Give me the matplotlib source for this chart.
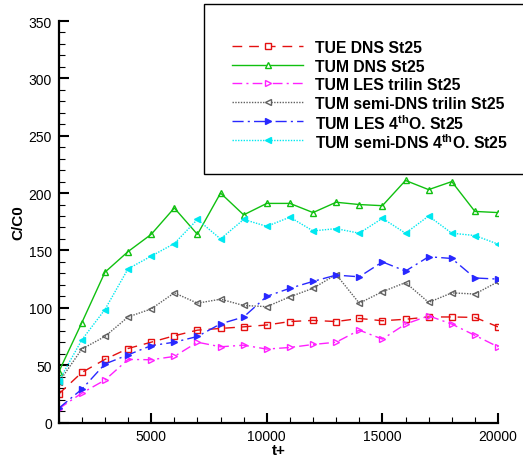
import matplotlib
matplotlib.use('Agg')
import matplotlib.pyplot as plt
import numpy as np
from matplotlib.lines import Line2D
from matplotlib.patches import Rectangle
from matplotlib.ticker import MultipleLocator

plt.rcParams['font.family'] = ['Liberation Sans', 'DejaVu Sans']
plt.rcParams['mathtext.fontset'] = 'custom'
plt.rcParams['mathtext.rm'] = 'Liberation Sans'
plt.rcParams['mathtext.bf'] = 'Liberation Sans:bold'

t_plus = np.arange(1000, 21000, 1000)

tue_dns = [24.8, 43.6, 55, 64.5, 70, 75.6, 80.5, 82, 83.4, 85,
           88, 89, 88, 90.7, 88.7, 90, 92, 92, 91.6, 83.4]
tum_dns = [44, 87, 131, 149, 164, 187, 164, 200, 181, 191,
           191, 183, 192, 190, 189, 211, 203, 210, 184, 183]
tum_les_trilin = [12, 25.6, 37, 55, 54.7, 57.6, 70, 66, 67.4, 64,
                  65.4, 68, 70, 80.5, 72.7, 85.8, 93, 85.8, 76, 66]
tum_semi_trilin = [35, 64, 75, 92, 99, 113, 104, 107.5, 102, 101,
                   109.6, 117, 129, 104, 114, 122, 104.7, 113, 112, 122.7]
tum_les_4th = [12.4, 29, 51, 59, 67, 70, 75, 86, 92, 110,
               117, 123, 128.5, 127, 140, 132, 144.5, 143, 126, 125]
tum_semi_4th = [36, 72, 98.5, 134, 145, 156, 177, 160, 177, 171,
                179, 167, 169, 165, 178, 165, 180, 165, 163, 155.5]

labels = ['TUE DNS St25', 'TUM DNS St25', 'TUM LES trilin St25',
          'TUM semi-DNS trilin St25', r'TUM LES 4$^{\mathbf{th}}$O. St25',
          r'TUM semi-DNS 4$^{\mathbf{th}}$O. St25']
series = [tue_dns, tum_dns, tum_les_trilin, tum_semi_trilin, tum_les_4th, tum_semi_4th]

# color, linestyle, marker, filled, markersize
styles = [
    ('#e41010', (0, (7, 5)), 's', False, 4.5),
    ('#10c010', '-', '^', False, 5),
    ('#ff20ff', (0, (7, 3, 1.5, 3)), '>', False, 5),
    ('#606060', (0, (1, 1)), '<', False, 5),
    ('#2828ff', (0, (8, 3, 1.5, 3)), '>', True, 4.5),
    ('#00e8f0', (0, (1, 1)), '<', True, 4.5),
]

W, H = 523, 464
fig = plt.figure(figsize=(W / 100, H / 100), dpi=100)
ax = fig.add_axes([58.7 / W, 1 - 423.5 / H, (498 - 58.7) / W, (423.5 - 22) / H])

for vals, lab, (c, ls, mk, filled, ms) in zip(series, labels, styles):
    ax.plot(t_plus, vals, color=c, ls=ls, lw=1, marker=mk,
            mfc=c if filled else 'none', mec=c, ms=ms, label=lab)

ax.set_xlim(1000, 20000)
ax.set_ylim(0, 350)
ax.xaxis.set_major_locator(MultipleLocator(5000))
ax.xaxis.set_minor_locator(MultipleLocator(1000))
ax.yaxis.set_major_locator(MultipleLocator(50))
ax.yaxis.set_minor_locator(MultipleLocator(10))
ax.spines['top'].set_visible(False)
ax.spines['right'].set_visible(False)
for s in ('left', 'bottom'):
    ax.spines[s].set_linewidth(1.6)
ax.tick_params(which='major', direction='in', length=7, width=1.5, labelsize=10, pad=5)
ax.tick_params(which='minor', direction='in', length=4, width=0.8)
ax.set_xlabel('t+', fontsize=11, fontweight='bold', labelpad=0)
ax.set_ylabel('C/C0', fontsize=11, fontweight='bold', labelpad=2)

# legend frame: open on the right, runs off the figure edge
fig.patches.append(Rectangle((204 / W, 1 - 175 / H), 1.0, (175 - 5) / H,
                             transform=fig.transFigure, fill=True, fc='white',
                             ec='black', lw=1, zorder=3))

# legend rows drawn by hand so the spacing stays even
for i, (lab, (c, ls, mk, filled, ms)) in enumerate(zip(labels, styles)):
    y = 1 - (46.7 + i * 18.8) / H
    fig.add_artist(Line2D([232 / W, 303 / W], [y, y], transform=fig.transFigure,
                          color=c, ls=ls, lw=1, zorder=4))
    fig.add_artist(Line2D([267.5 / W], [y], transform=fig.transFigure, ls='none',
                          marker=mk, ms=ms, mfc=c if filled else 'white', mec=c,
                          zorder=4))
    fig.text(315 / W, y, lab, fontsize=11.3, fontweight='bold',
             va='center_baseline', ha='left', zorder=5)

fig.savefig('out.png', dpi=100)
